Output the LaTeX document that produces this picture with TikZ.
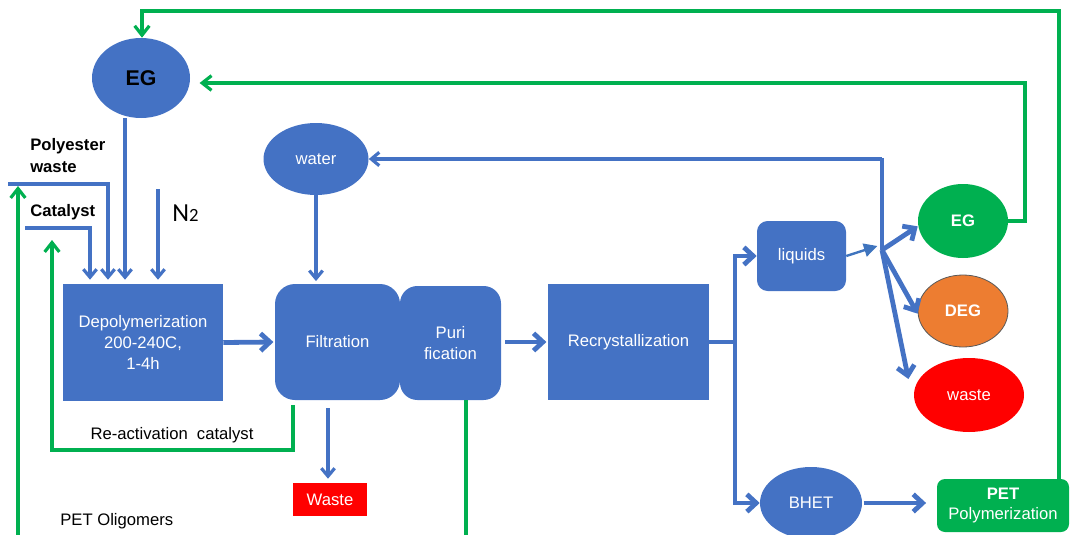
\documentclass[tikz,border=0pt]{standalone}
\usepackage{fontspec}
\setmainfont{Liberation Sans}
\newfontfamily\calibrifont{Carlito}
\usetikzlibrary{shapes.geometric,arrows.meta}
\definecolor{flowblue}{HTML}{4472C4}
\definecolor{flowgreen}{HTML}{00B050}
\definecolor{flowred}{HTML}{FF0000}
\definecolor{floworange}{HTML}{ED7D31}
\definecolor{tipblue}{HTML}{3F74BE}

\begin{document}
\begin{tikzpicture}[x=0.75pt,y=-0.75pt,
  lbl/.style={font=\fontsize{12.5}{15.5}\selectfont, inner sep=0pt},
  blk/.style={lbl, fill=flowblue, text=white, align=center, draw=none},
  oval/.style={blk, ellipse},
  link/.style={draw=flowblue, line width=2.4pt},
  linkarrow/.style={link, -{Straight Barb[length=6pt,width=10pt]}},
  heavy/.style={draw=flowblue, line width=3.6pt, -{Straight Barb[length=7pt,width=13pt]}},
  heavyline/.style={draw=flowblue, line width=3.2pt},
  loop/.style={draw=flowgreen, line width=2.4pt, -{Straight Barb[length=7pt,width=11pt]}},
  loopline/.style={draw=flowgreen, line width=2.4pt},
]
\useasboundingbox (0,0) rectangle (1071,535);

% ---------- nodes ----------
\node[oval, minimum width=73.5pt, minimum height=60pt, text=black,
      font=\fontsize{16}{16}\selectfont\bfseries] (egtop) at (141,78) {EG};
\node[oval, minimum width=78.75pt, minimum height=54pt] (water) at (316,159) {water};

\node[blk, minimum width=120pt, minimum height=87.75pt] (depoly) at (143,342.5)
  {Depolymerization\\200-240C,\\1-4h};
\node[blk, rounded corners=15pt, minimum width=93.75pt, minimum height=87pt] (filt) at (337.5,342) {Filtration};
\node[blk, rounded corners=13pt, minimum width=75.75pt, minimum height=85.5pt] (puri) at (450.5,343) {Puri\\fication};
\node[blk, minimum width=120.75pt, minimum height=87pt] (recry) at (628.5,342) {Recrystallization};
\node[blk, rounded corners=8pt, minimum width=66.75pt, minimum height=52.5pt] (liquids) at (801.5,256) {liquids};

\node[oval, fill=flowgreen, minimum width=67.5pt, minimum height=55.5pt, font=\fontsize{12.5}{15}\selectfont\bfseries] (egg) at (963,221) {EG};
\node[oval, fill=floworange, draw=gray!70!black, line width=0.6pt, minimum width=67.5pt, minimum height=54pt, font=\fontsize{12.5}{15}\selectfont\bfseries] (deg) at (963,311) {DEG};
\node[oval, fill=flowred, minimum width=82.5pt, minimum height=55.5pt] (wst) at (969,395) {waste};

\node[oval, minimum width=76.5pt, minimum height=54pt] (bhet) at (811,503) {BHET};
\node[blk, fill=flowgreen, rounded corners=6pt, minimum width=99pt, minimum height=39.75pt] (pet) at (1003,505.5)
  {\textbf{PET}\\Polymerization};
\node[blk, fill=flowred, minimum width=55.5pt, minimum height=24.75pt] (wastebox) at (330,499.5) {Waste};

% ---------- labels ----------
\node[lbl, anchor=west, align=left, font=\fontsize{12.5}{16.5}\selectfont\bfseries] (polyester) at (30,156) {Polyester\\waste};
\node[lbl, anchor=west, font=\fontsize{12.5}{15}\selectfont\bfseries] (catalyst) at (30,212) {Catalyst};
\node[lbl, anchor=west] (ntwo) at (172,213)
  {\calibrifont\fontsize{19.5}{20}\selectfont N\fontsize{14}{14}\selectfont 2};
\node[lbl] (reac) at (172,435) {Re-activation\hspace{0.55em}catalyst};
\node[lbl, anchor=west] (olig) at (60,521) {PET Oligomers};

% ---------- helper points ----------
\coordinate (polyin) at (8,184);
\coordinate (catin) at (25,228);
\coordinate (ntop) at (158,189);
\coordinate (oligbot) at (18,536);
\coordinate (oligtop) at (18,186);
\coordinate (reacstart) at (293,405);
\coordinate (reacend) at (52,240);
\coordinate (puribot) at (466,536);
\coordinate (fork) at (735,342);
\coordinate (br) at (882,250);
\coordinate (watertap) at (882,159);

% ---------- feeds into depolymerization ----------
\draw[linkarrow, shorten >=3pt] (egtop.south -| 125,0) -- (depoly.north -| 125,0);
\draw[linkarrow, shorten >=3pt] (polyin) -| (depoly.north -| 108,0);
\draw[linkarrow, shorten >=3pt] (catin) -| (depoly.north -| 90,0);
\draw[linkarrow, shorten >=3pt] (ntop) -- (depoly.north -| ntop);

% ---------- main line ----------
\draw[heavy, shorten >=1pt] (depoly.east) -- (filt.west);
\draw[linkarrow, shorten >=2pt] (water.south) -- (filt.north -| water.south);
\draw[heavy, shorten <=3pt, shorten >=1pt] (recry.west -| puri.east) -- (recry.west);
\draw[heavyline] (recry.east) -- (fork);
\draw[heavy] (fork) |- (liquids.west);
\draw[heavy] (fork) |- (bhet.west);
\draw[linkarrow, shorten <=6pt, shorten >=3pt] (filt.south -| 328,0) -- (wastebox.north -| 328,0);
\draw[heavy, shorten <=1pt, shorten >=8pt] (bhet.east) -- (pet.west |- bhet.east);

% ---------- liquid separation ----------
\draw[draw=tipblue, line width=1.8pt, -{Triangle[length=10pt,width=10pt]}] (liquids.east) -- ([xshift=-3.5pt,yshift=3pt]br);
\draw[link] (br) -- ([yshift=1pt]watertap);
\draw[linkarrow] (watertap) -- (water.east);
\draw[heavy] (br) -- ([yshift=-4pt]egg.west);
\draw[heavy] (br) -- ([yshift=-2pt]deg.west);
\draw[heavy] (br) -- ([xshift=-4pt,yshift=12pt]wst.west);

% ---------- green recycle loops ----------
\draw[loop] (pet.north -| 1059,0) |- (142,11) -- (egtop.north -| 142,0);
\draw[loop, shorten >=7pt] (egg.east) -| (1025,83) -- (egtop.east |- 0,83);
\draw[loop] (oligbot) -- (oligtop);
\draw[loop] (reacstart) |- (52,450) -- (reacend);
\draw[loopline] (puri.south -| puribot) -- (puribot);

\end{tikzpicture}
\end{document}
